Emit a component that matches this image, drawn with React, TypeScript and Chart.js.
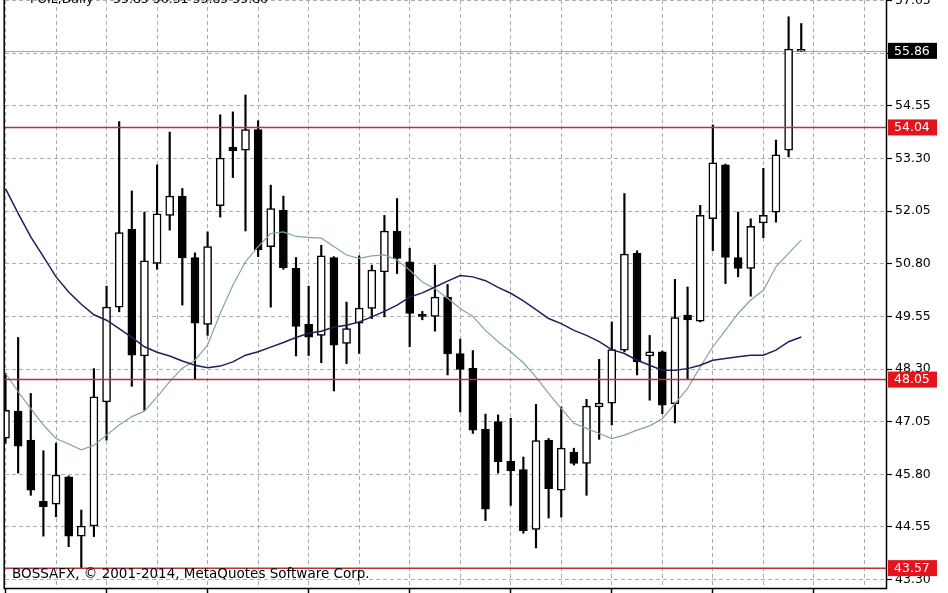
import { useEffect, useRef } from 'react';
import { Chart, registerables } from 'chart.js';

Chart.register(...registerables);

// ---- data (FOIL, Daily) ----
const opens = [46.66, 47.30, 46.61, 45.16, 45.09, 45.74, 44.33, 44.57, 47.52, 49.77, 51.62, 48.61, 50.81, 51.95, 52.41, 50.95, 49.36, 52.18, 53.57, 53.50, 53.99, 51.21, 52.07, 50.69, 49.36, 49.10, 50.95, 48.91, 49.39, 49.74, 50.61, 51.58, 50.85, 49.60, 49.55, 50.01, 48.67, 48.32, 46.87, 47.05, 46.11, 45.91, 44.49, 46.61, 45.42, 46.33, 46.06, 47.40, 47.49, 48.75, 51.05, 48.61, 48.71, 47.48, 49.58, 49.44, 51.87, 53.15, 50.95, 50.69, 51.77, 52.03, 53.50, 55.85];
const highs = [48.20, 49.05, 47.72, 46.36, 46.54, 45.76, 44.95, 48.31, 50.27, 54.18, 52.53, 52.03, 53.15, 53.93, 52.59, 51.06, 51.56, 54.34, 54.41, 54.81, 54.20, 52.67, 52.41, 50.95, 50.27, 51.24, 50.97, 49.89, 50.99, 50.77, 51.95, 52.35, 51.17, 49.67, 50.77, 50.31, 49.01, 48.74, 47.23, 47.21, 47.13, 46.21, 47.46, 46.65, 47.40, 46.42, 47.58, 48.53, 49.42, 52.47, 51.11, 49.10, 48.73, 50.43, 50.25, 52.19, 54.10, 53.17, 52.03, 51.87, 53.07, 53.74, 56.67, 56.51];
const lows = [46.54, 45.83, 45.30, 44.33, 44.79, 44.08, 43.57, 44.32, 46.61, 49.66, 47.89, 47.32, 50.67, 51.60, 49.82, 48.05, 49.10, 51.91, 52.85, 51.58, 50.97, 49.77, 50.67, 48.61, 48.62, 48.45, 47.78, 48.43, 48.67, 49.50, 49.54, 50.57, 48.83, 49.47, 49.20, 48.16, 47.28, 46.77, 44.70, 45.83, 45.06, 44.40, 44.05, 44.76, 44.78, 46.02, 45.30, 46.63, 46.97, 48.71, 48.16, 47.56, 47.24, 47.02, 48.05, 49.42, 51.11, 50.33, 50.49, 50.03, 51.42, 51.79, 53.34, 55.85];
const closes = [47.32, 46.47, 45.42, 45.03, 45.78, 44.33, 44.57, 47.64, 49.77, 51.54, 48.63, 50.87, 51.99, 52.41, 50.94, 49.39, 51.21, 53.31, 53.48, 53.99, 51.13, 52.11, 50.71, 49.31, 49.06, 50.99, 48.87, 49.26, 49.75, 50.65, 51.58, 50.93, 49.62, 49.55, 50.01, 48.66, 48.29, 46.85, 44.97, 46.10, 45.88, 44.46, 46.60, 45.46, 46.42, 46.06, 47.42, 47.49, 48.76, 51.03, 48.47, 48.71, 47.44, 49.52, 49.47, 51.95, 53.20, 50.95, 50.69, 51.69, 51.95, 53.39, 55.90, 55.86];
const maSlow = [52.59, 52.00, 51.44, 50.97, 50.49, 50.13, 49.84, 49.59, 49.46, 49.26, 49.05, 48.83, 48.70, 48.61, 48.49, 48.39, 48.33, 48.37, 48.47, 48.63, 48.71, 48.82, 48.93, 49.05, 49.15, 49.20, 49.30, 49.34, 49.42, 49.54, 49.67, 49.82, 50.01, 50.11, 50.25, 50.39, 50.52, 50.49, 50.40, 50.24, 50.10, 49.92, 49.71, 49.50, 49.38, 49.22, 49.10, 48.95, 48.76, 48.67, 48.51, 48.39, 48.27, 48.27, 48.31, 48.39, 48.51, 48.55, 48.59, 48.63, 48.63, 48.75, 48.95, 49.06];
const maFast = [48.20, 47.76, 47.36, 46.97, 46.65, 46.52, 46.38, 46.49, 46.73, 46.97, 47.17, 47.30, 47.64, 48.00, 48.32, 48.51, 48.87, 49.62, 50.29, 50.85, 51.21, 51.52, 51.56, 51.45, 51.43, 51.41, 51.21, 51.01, 50.93, 50.99, 51.01, 50.89, 50.65, 50.37, 50.21, 49.98, 49.74, 49.55, 49.22, 48.95, 48.71, 48.45, 48.11, 47.72, 47.36, 47.01, 46.89, 46.77, 46.65, 46.73, 46.85, 46.95, 47.12, 47.48, 47.84, 48.35, 48.83, 49.22, 49.62, 49.94, 50.17, 50.73, 51.05, 51.37];

const yTicks = [57.05, 55.80, 54.55, 53.30, 52.05, 50.80, 49.55, 48.30, 47.05, 45.80, 44.55, 43.30];
const xGridIdx = [0, 4, 8, 12, 16, 20, 24, 28, 32, 36, 40, 44, 48, 52, 56, 60, 64, 68];
const levels = [54.04, 48.05, 43.57];
const lastPrice = 55.86;
const titleSymbol = 'FOIL,Daily';
const titleValues = '55.85 56.51 55.85 55.86';
const copyright = 'BOSSAFX, © 2001-2014, MetaQuotes Software Corp.';

const FONT = 'DejaVu Sans';

const overlay = {
  id: 'overlay',
  beforeDraw(chart: any) {
    const { ctx, width, height } = chart;
    ctx.save();
    ctx.fillStyle = '#ffffff';
    ctx.fillRect(0, 0, width, height);
    ctx.restore();
  },
  beforeDatasetsDraw(chart: any) {
    const { ctx, chartArea } = chart;
    const y = chart.scales.y.getPixelForValue(lastPrice);
    ctx.save();
    ctx.strokeStyle = '#a8a8a8';
    ctx.lineWidth = 1;
    ctx.beginPath();
    ctx.moveTo(chartArea.left, Math.round(y) + 0.5);
    ctx.lineTo(chartArea.right, Math.round(y) + 0.5);
    ctx.stroke();
    ctx.restore();
  },
  afterDatasetsDraw(chart: any) {
    const { ctx, chartArea } = chart;
    ctx.save();
    ctx.strokeStyle = '#b8323c';
    ctx.lineWidth = 1.5;
    levels.forEach((v) => {
      const y = chart.scales.y.getPixelForValue(v);
      ctx.beginPath();
      ctx.moveTo(chartArea.left, y);
      ctx.lineTo(chartArea.right, y);
      ctx.stroke();
    });
    ctx.restore();
  },
  afterDraw(chart: any) {
    const { ctx, chartArea } = chart;
    const ys = chart.scales.y;
    ctx.save();
    // frame
    ctx.strokeStyle = '#000000';
    ctx.lineWidth = 1.5;
    ctx.beginPath();
    ctx.moveTo(chartArea.left - 0.8, 0);
    ctx.lineTo(chartArea.left - 0.8, chartArea.bottom + 0.5);
    ctx.lineTo(chartArea.right + 0.5, chartArea.bottom + 0.5);
    ctx.lineTo(chartArea.right + 0.5, 0);
    ctx.stroke();

    // price boxes
    ctx.font = `12.5px "${FONT}"`;
    ctx.textBaseline = 'middle';
    ctx.textAlign = 'left';
    const box = (v: number, bg: string) => {
      const y = ys.getPixelForValue(v);
      ctx.fillStyle = bg;
      ctx.fillRect(chartArea.right + 2, y - 8, 49, 16);
      ctx.fillStyle = '#ffffff';
      ctx.fillText(v.toFixed(2), chartArea.right + 8, y + 0.5);
    };
    box(lastPrice, '#000000');
    levels.forEach((v) => box(v, '#e3141c'));

    // title (clipped at top)
    ctx.fillStyle = '#000000';
    ctx.textBaseline = 'alphabetic';
    ctx.font = `12.5px "${FONT}"`;
    ctx.fillText(titleSymbol, 30, 3);
    ctx.fillText(titleValues, 113, 3);

    // copyright
    ctx.font = `13.5px "${FONT}"`;
    ctx.fillText(copyright, 12, 578);
    ctx.restore();
  },
};

export default function App() {
  const ref = useRef<HTMLCanvasElement | null>(null);

  useEffect(() => {
    if (!ref.current) return;
    const bodyData = opens.map((o, i) => ({ x: i, y: [o, closes[i]] }));
    const wickData = opens.map((_, i) => ({ x: i, y: [lows[i], highs[i]] }));
    const chart = new Chart(ref.current, {
      type: 'bar',
      data: {
        datasets: [
          {
            type: 'line',
            data: maSlow.map((v, i) => ({ x: i, y: v })),
            borderColor: '#1f1f5c',
            borderWidth: 1.5,
            pointRadius: 0,
            tension: 0,
            order: 0,
          } as any,
          {
            type: 'line',
            data: maFast.map((v, i) => ({ x: i, y: v })),
            borderColor: '#7fa89c',
            borderWidth: 1.2,
            pointRadius: 0,
            tension: 0,
            order: 0,
          } as any,
          {
            type: 'bar',
            data: bodyData,
            backgroundColor: closes.map((c, i) => (c >= opens[i] ? '#ffffff' : '#000000')),
            borderColor: '#000000',
            borderWidth: 1.5,
            borderSkipped: false,
            barThickness: 8,
            minBarLength: 2,
            grouped: false,
            order: 1,
          } as any,
          {
            type: 'bar',
            data: wickData,
            backgroundColor: '#000000',
            borderWidth: 0,
            barThickness: 1.5,
            grouped: false,
            order: 2,
          } as any,
        ],
      },
      options: {
        animation: false,
        responsive: false,
        maintainAspectRatio: false,
        events: [],
        layout: { padding: { left: 5, right: 0, top: 0, bottom: 0 }, autoPadding: false },
        plugins: { legend: { display: false }, tooltip: { enabled: false } },
        scales: {
          x: {
            type: 'linear',
            min: -0.04,
            max: 69.71,
            offset: false,
            afterBuildTicks: (s: any) => {
              s.ticks = xGridIdx.map((v) => ({ value: v }));
            },
            afterFit: (s: any) => {
              s.height = 5;
              s.paddingLeft = 0;
              s.paddingRight = 0;
            },
            ticks: { display: false },
            grid: {
              offset: false,
              color: '#adadad',
              lineWidth: 1,
              drawTicks: true,
              tickLength: 8,
              tickWidth: 1.5,
              tickColor: (c: any) => (c.index % 2 === 0 ? '#000000' : 'rgba(0,0,0,0)'),
              tickBorderDash: [],
            },
            border: { display: false, dash: [4, 3] },
          } as any,
          y: {
            type: 'linear',
            position: 'right',
            min: 43.098,
            max: 57.068,
            afterBuildTicks: (s: any) => {
              s.ticks = yTicks.map((v) => ({ value: v }));
            },
            afterFit: (s: any) => {
              s.width = 62;
              s.paddingTop = 0;
              s.paddingBottom = 0;
            },
            ticks: {
              color: '#000000',
              padding: 3,
              font: { family: FONT, size: 12.5 },
              callback: (v: any) => Number(v).toFixed(2),
            },
            grid: {
              color: '#adadad',
              lineWidth: 1,
              drawTicks: true,
              tickLength: 6,
              tickColor: '#000000',
              tickWidth: 1.2,
              tickBorderDash: [],
            },
            border: { display: false, dash: [4, 3] },
          } as any,
        },
      },
      plugins: [overlay],
    });
    return () => chart.destroy();
  }, []);

  return (
    <div style={{ position: 'fixed', left: 0, top: 0, width: 948, height: 593, background: '#fff' }}>
      <canvas ref={ref} width={948} height={593} style={{ width: 948, height: 593, display: 'block' }} />
    </div>
  );
}
